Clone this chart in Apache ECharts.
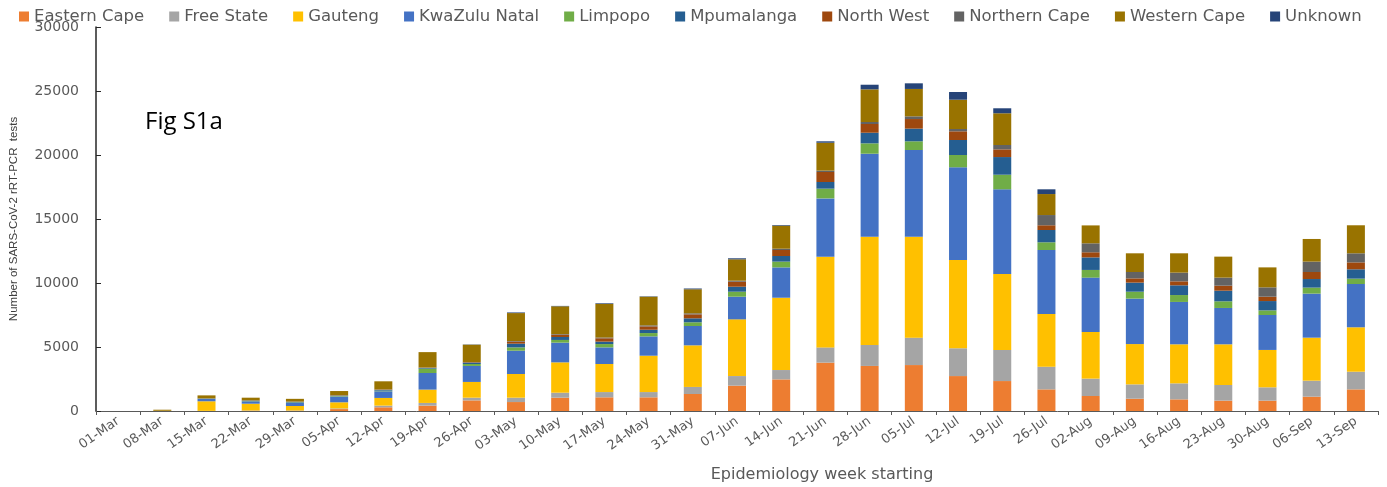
<!DOCTYPE html>
<html>
<head>
<meta charset="utf-8">
<script src="https://cdn.jsdelivr.net/npm/echarts@6/dist/echarts.min.js"></script>
<style>
  html, body { margin: 0; padding: 0; background: #fff; }
  #weekly_tests_chart { width: 1387px; height: 487px; }
</style>
</head>
<body>
<div id="weekly_tests_chart"></div>
<script>
// week labels
var weeks = ['01-Mar', '08-Mar', '15-Mar', '22-Mar', '29-Mar', '05-Apr', '12-Apr', '19-Apr', '26-Apr', '03-May',
  '10-May', '17-May', '24-May', '31-May', '07-Jun', '14-Jun', '21-Jun', '28-Jun', '05-Jul', '12-Jul',
  '19-Jul', '26-Jul', '02-Aug', '09-Aug', '16-Aug', '23-Aug', '30-Aug', '06-Sep', '13-Sep'];

// tests per province, per week
var easternCape = [0, 0, 0, 20, 20, 150, 290, 420, 830, 700, 1040, 1070, 1070, 1330, 1980, 2470, 3780, 3520, 3590, 2730, 2340, 1690, 1170, 960, 910, 810, 810, 1120, 1690];
var freeState = [0, 0, 10, 20, 20, 50, 130, 210, 210, 340, 390, 410, 410, 550, 750, 730, 1190, 1640, 2140, 2170, 2430, 1770, 1360, 1120, 1250, 1220, 1040, 1250, 1380];
var gauteng = [0, 20, 750, 530, 350, 480, 600, 1040, 1230, 1850, 2370, 2190, 2840, 3250, 4430, 5650, 7090, 8460, 7890, 6900, 5930, 4120, 3640, 3150, 3050, 3180, 2920, 3360, 3470];
var kwazuluNatal = [0, 0, 180, 190, 240, 440, 520, 1300, 1250, 1820, 1540, 1300, 1510, 1510, 1770, 2370, 4550, 6480, 6770, 7240, 6620, 5000, 4250, 3550, 3310, 2840, 2730, 3440, 3380];
var limpopo = [0, 0, 20, 30, 40, 40, 50, 340, 150, 260, 210, 260, 260, 290, 390, 450, 760, 810, 680, 960, 1140, 600, 600, 540, 540, 520, 360, 470, 420];
var mpumalanga = [0, 0, 20, 30, 50, 40, 60, 50, 80, 290, 230, 190, 260, 310, 390, 440, 520, 830, 990, 1170, 1380, 960, 980, 710, 760, 830, 730, 670, 730];
var northWest = [0, 0, 10, 10, 20, 20, 30, 20, 40, 160, 180, 260, 260, 310, 390, 470, 780, 680, 750, 680, 600, 370, 400, 330, 310, 390, 340, 550, 540];
var northernCape = [0, 0, 0, 0, 0, 10, 10, 20, 40, 50, 50, 60, 80, 80, 80, 100, 110, 160, 210, 180, 340, 800, 700, 500, 680, 630, 730, 810, 710];
var westernCape = [0, 80, 230, 210, 210, 330, 630, 1200, 1350, 2180, 2170, 2630, 2240, 1880, 1670, 1800, 2180, 2550, 2140, 2290, 2480, 1640, 1400, 1460, 1510, 1640, 1560, 1770, 2190];
var unknown = [0, 0, 0, 0, 0, 0, 0, 0, 20, 50, 30, 50, 30, 60, 80, 50, 110, 360, 440, 600, 390, 370, 0, 0, 0, 0, 0, 0, 0];

var provinces = [
  { name: 'Eastern Cape', color: '#ED7D31', value: easternCape },
  { name: 'Free State', color: '#A5A5A5', value: freeState },
  { name: 'Gauteng', color: '#FFC000', value: gauteng },
  { name: 'KwaZulu Natal', color: '#4472C4', value: kwazuluNatal },
  { name: 'Limpopo', color: '#70AD47', value: limpopo },
  { name: 'Mpumalanga', color: '#255E91', value: mpumalanga },
  { name: 'North West', color: '#9E480E', value: northWest },
  { name: 'Northern Cape', color: '#636363', value: northernCape },
  { name: 'Western Cape', color: '#997300', value: westernCape },
  { name: 'Unknown', color: '#264478', value: unknown }
];

var labelFont = 'DejaVu Sans';

var option = {
  animation: false,
  color: provinces.map(function (p) { return p.color; }),
  legend: {
    data: provinces.map(function (p) { return p.name; }),
    left: 14,
    top: 3,
    itemWidth: 10,
    itemHeight: 10,
    itemGap: 25,
    icon: 'rect',
    textStyle: { fontFamily: labelFont, fontSize: 16.5, color: '#595959' }
  },
  grid: { left: 96, right: 9, top: 27, bottom: 76 },
  graphic: [
    {
      type: 'text',
      left: 145,
      top: 110,
      style: { text: 'Fig S1a', font: '24px "Open Sans"', fill: '#000' }
    },
    {
      // axis title sits right of the plot centre in the original
      type: 'text',
      x: 822,
      y: 475,
      style: {
        text: 'Epidemiology week starting',
        font: '16px "DejaVu Sans"',
        fill: '#595959',
        align: 'center',
        verticalAlign: 'middle'
      }
    }
  ],
  xAxis: {
    type: 'category',
    data: weeks,
    axisLine: { lineStyle: { color: '#595959' } },
    axisTick: { show: true, length: 4, lineStyle: { color: '#595959' } },
    axisLabel: { rotate: 35, fontFamily: labelFont, fontSize: 13, color: '#595959', margin: 9 }
  },
  yAxis: {
    type: 'value',
    min: 0,
    max: 30000,
    interval: 5000,
    name: 'Number of SARS-CoV-2 rRT-PCR  tests',
    nameLocation: 'middle',
    nameGap: 76,
    nameTextStyle: { fontFamily: 'Liberation Sans', fontSize: 11.5, color: '#404040' },
    axisLine: { show: true, lineStyle: { color: '#262626', width: 1.5 } },
    axisTick: { show: true, inside: true, length: 5, lineStyle: { color: '#262626' } },
    splitLine: { show: false },
    axisLabel: {
      fontFamily: labelFont,
      fontSize: 14,
      color: '#595959',
      margin: 17,
      formatter: function (v) { return String(v); }
    }
  },
  series: provinces.map(function (p) {
    return {
      name: p.name,
      type: 'bar',
      stack: 'tests',
      barWidth: 18,
      data: p.value
    };
  })
};

var weekly_tests_chart = echarts.init(document.getElementById('weekly_tests_chart'));
weekly_tests_chart.setOption(option);
window.addEventListener('resize', function () {
  weekly_tests_chart.resize();
});
</script>
</body>
</html>
